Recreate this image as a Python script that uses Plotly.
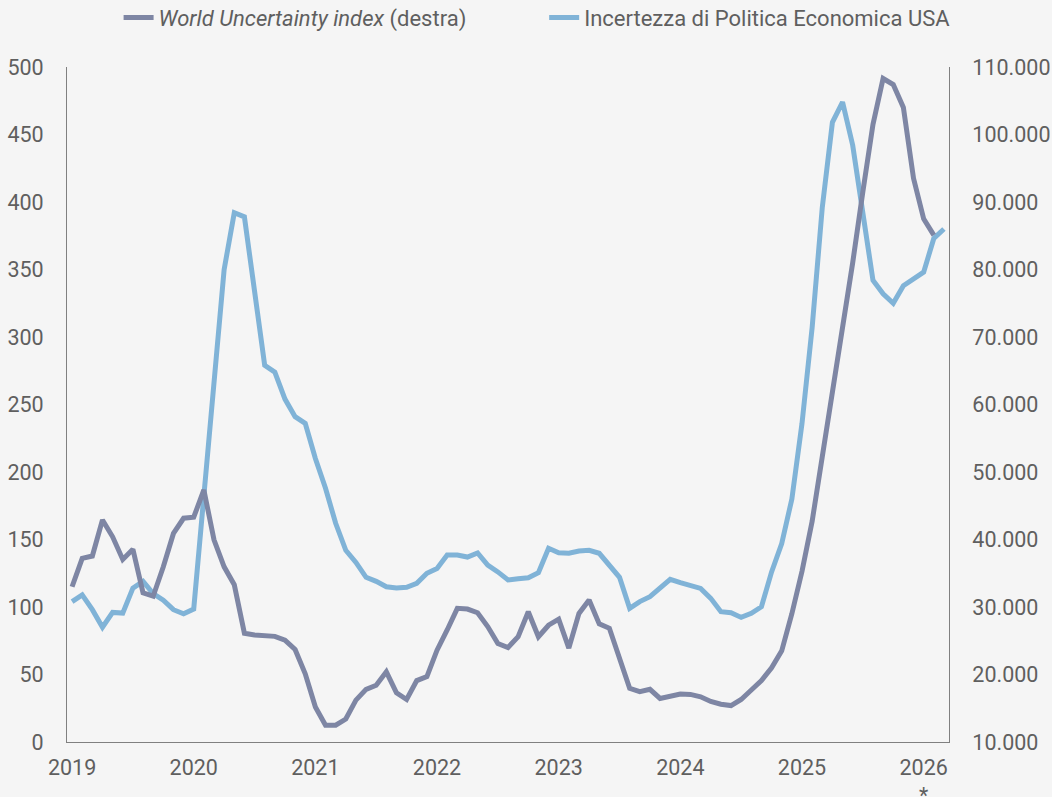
import plotly.graph_objects as go

months = [f"{y}-{m:02d}" for y in range(2019, 2027) for m in range(1, 13)][:87]

# Incertezza di Politica Economica USA (left axis)
epu_usa = [104, 109, 98, 85, 96, 95.5, 114, 119, 110, 105, 98, 95,
           98.5, 182, 266, 350, 392, 389, 334, 279, 274, 254, 241, 236,
           210, 188, 162, 142, 133, 122, 119, 115, 114, 114.6, 117.5, 125,
           128.6, 138.5, 138.5, 137, 140, 131, 126, 120, 121, 121.7, 125.4, 143.5,
           140.2, 139.8, 141.5, 142, 139.8, 131, 122, 99, 104, 107.6, 113.8, 120.5,
           118, 116, 113.8, 106.4, 96.5, 95.8, 92.3, 95.3, 100.2, 126, 147, 180,
           236, 307, 396, 459, 474, 442, 390, 342, 332, 325, 338, 343,
           348, 373, 380]

# World Uncertainty index (right axis)
wui = [33000, 37200, 37550, 42900, 40400, 37050, 38550, 32100, 31600, 35950, 40900, 43150,
       43300, 47350, 39950, 35950, 33300, 26100, 25850, 25700, 25650, 25100, 23700, 20100,
       15200, 12500, 12500, 13400, 16200, 17800, 18400, 20400, 17300, 16300, 19100, 19700,
       23600, 26600, 29800, 29700, 29150, 27100, 24600, 24000, 25600, 29300, 25600, 27300,
       28200, 23900, 29050, 31050, 27500, 26850, 22600, 17950, 17450, 17800, 16450, 16800,
       17100, 17050, 16700, 16000, 15600, 15400, 16300, 17700, 19100, 21000, 23500, 29000,
       35300, 42700, 52000, 62000, 71500, 81000, 91500, 101500, 108300, 107400, 104000, 93500,
       87500, 85100]

year_ticks = ["2019-01", "2020-01", "2021-01", "2022-01", "2023-01", "2024-01", "2025-01", "2026-01"]
year_labels = ["2019", "2020", "2021", "2022", "2023", "2024", "2025", "2026<br>*"]

DARK = "#7e86a4"
LIGHT = "#80b3d7"
TXT = "#5f5f5f"
BG = "#f5f5f5"
TICKSIZE = 21.5

fig = go.Figure()
fig.add_trace(go.Scatter(
    x=months[:len(wui)], y=wui, yaxis="y2", mode="lines",
    name="<i>World Uncertainty index</i> (destra)", legend="legend",
    line=dict(color=DARK, width=5)))
fig.add_trace(go.Scatter(
    x=months[:len(epu_usa)], y=epu_usa, yaxis="y", mode="lines",
    name="Incertezza di Politica Economica USA", legend="legend2",
    line=dict(color=LIGHT, width=5)))

leg_common = dict(orientation="h", xanchor="left", y=1.073, yanchor="middle",
                  font=dict(size=22, color=TXT), bgcolor="rgba(0,0,0,0)")

fig.update_layout(
    width=1052, height=797,
    margin=dict(l=67, r=103, t=67, b=55, autoexpand=False),
    paper_bgcolor=BG, plot_bgcolor=BG,
    separators=",.",
    font=dict(family="Roboto", size=TICKSIZE, color=TXT),
    showlegend=True,
    legend=dict(x=0.0585, **leg_common),
    legend2=dict(x=0.541, **leg_common),
    xaxis=dict(type="category", categoryorder="array", categoryarray=months,
               range=[-0.5, len(months) - 0.5], automargin=False,
               tickmode="array", tickvals=year_ticks, ticktext=year_labels,
               showgrid=False, zeroline=False, showline=True, linecolor="#808080", linewidth=1,
               ticks="", ticklabelstandoff=6, tickfont=dict(size=TICKSIZE, color=TXT)),
    yaxis=dict(range=[0, 500], dtick=50, tick0=0, showgrid=False, zeroline=False,
               automargin=False,
               showline=True, linecolor="#808080", linewidth=1, ticks="",
               ticklabelstandoff=18, tickfont=dict(size=TICKSIZE, color=TXT)),
    yaxis2=dict(range=[10000, 110000], dtick=10000, tick0=10000, overlaying="y", side="right",
                tickformat=",d", showgrid=False, zeroline=False, automargin=False,
                showline=True, linecolor="#808080", linewidth=1, ticks="",
                ticklabelstandoff=18, tickfont=dict(size=TICKSIZE, color=TXT)),
)

fig.write_html("out.html")
